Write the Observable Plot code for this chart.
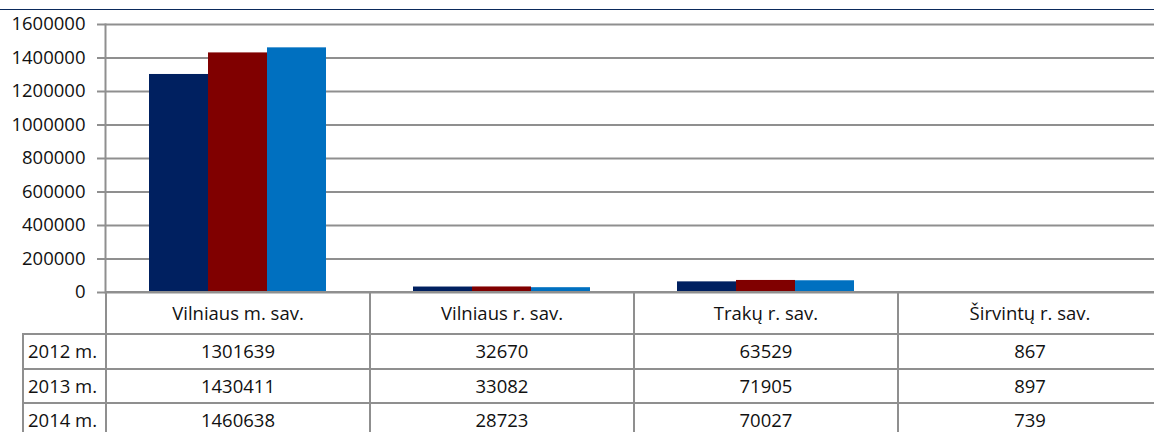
<!DOCTYPE html>
<html><head><meta charset="utf-8">
<script src="https://cdn.jsdelivr.net/npm/d3@7"></script>
<script src="https://cdn.jsdelivr.net/npm/@observablehq/plot@0.6"></script>
<style>
html,body{margin:0;padding:0;background:#fff;overflow:hidden;width:1154px;height:432px;}
#wrap{position:relative;width:1154px;height:432px;overflow:hidden;font-family:"Open Sans",sans-serif;}
#topline{position:absolute;left:0;top:9px;width:1154px;height:1px;background:#0b2a5c;}
#chart{position:absolute;left:0;top:0;}
#tbl{position:absolute;left:22px;top:291px;width:1141px;border-collapse:collapse;table-layout:fixed;font-size:18.5px;color:#111;}
#tbl td{border:2px solid #8f8f8f;text-align:center;padding:0;line-height:22px;white-space:nowrap;}
#tbl tr.head td{height:40px;}
#tbl tr.row td{height:32.5px;}
#tbl td.blank{border:none;}
#tbl td.lab{text-align:left;padding-left:4px;}
</style>
</head><body>
<div id="wrap"><div id="chart"></div><div id="topline"></div><table id="tbl"></table></div>
<script>
const categories = ["Vilniaus m. sav.", "Vilniaus r. sav.", "Trakų r. sav.", "Širvintų r. sav."];
const years = ["2012 m.", "2013 m.", "2014 m."];
const values2012 = [1301639, 32670, 63529, 867];
const values2013 = [1430411, 33082, 71905, 897];
const values2014 = [1460638, 28723, 70027, 739];
const yTicks = [0, 200000, 400000, 600000, 800000, 1000000, 1200000, 1400000, 1600000];
const colors = ["#002060", "#800000", "#0070c0"];

const series = [values2012, values2013, values2014];
const data = [];
categories.forEach((c, i) => years.forEach((yr, j) => data.push({category: c, year: yr, value: series[j][i]})));

const chart = Plot.plot({
  width: 1154, height: 312,
  marginTop: 24, marginBottom: 20, marginLeft: 105, marginRight: 0,
  style: {fontFamily: "'Open Sans', sans-serif", fontSize: "18.5px", color: "#111", background: "transparent", overflow: "visible"},
  fx: {domain: categories, range: [105, 1161], padding: 0, axis: null, label: null},
  x: {domain: years, paddingInner: 0, paddingOuter: 0.73, axis: null},
  y: {domain: [0, 1600000], label: null, axis: null},
  color: {domain: years, range: colors},
  marks: [
    Plot.ruleY(yTicks, {stroke: "#8f8f8f", strokeWidth: 2, strokeOpacity: 1}),
    Plot.barY(data, {fx: "category", x: "year", y: "value", fill: "year"}),
    Plot.axisY(yTicks, {tickSize: 8, tickPadding: 12, tickFormat: "d", fontSize: 18.5, stroke: "#8f8f8f", strokeWidth: 2, fill: "#111", label: null}),
    Plot.frame({anchor: "left", facetAnchor: "left", stroke: "#8f8f8f", strokeWidth: 2})
  ]
});
document.getElementById("chart").appendChild(chart);

const tbl = document.getElementById("tbl");
const colg = document.createElement("colgroup");
[83, 264, 264, 264, 264].forEach(w => { const c = document.createElement("col"); c.style.width = w + "px"; colg.appendChild(c); });
tbl.appendChild(colg);
const head = document.createElement("tr"); head.className = "head";
const b = document.createElement("td"); b.className = "blank"; head.appendChild(b);
categories.forEach(c => { const td = document.createElement("td"); td.textContent = c; head.appendChild(td); });
tbl.appendChild(head);
years.forEach((yr, j) => {
  const tr = document.createElement("tr"); tr.className = "row";
  const l = document.createElement("td"); l.className = "lab"; l.textContent = yr; tr.appendChild(l);
  series[j].forEach(v => { const td = document.createElement("td"); td.textContent = String(v); tr.appendChild(td); });
  tbl.appendChild(tr);
});
</script>
</body></html>
